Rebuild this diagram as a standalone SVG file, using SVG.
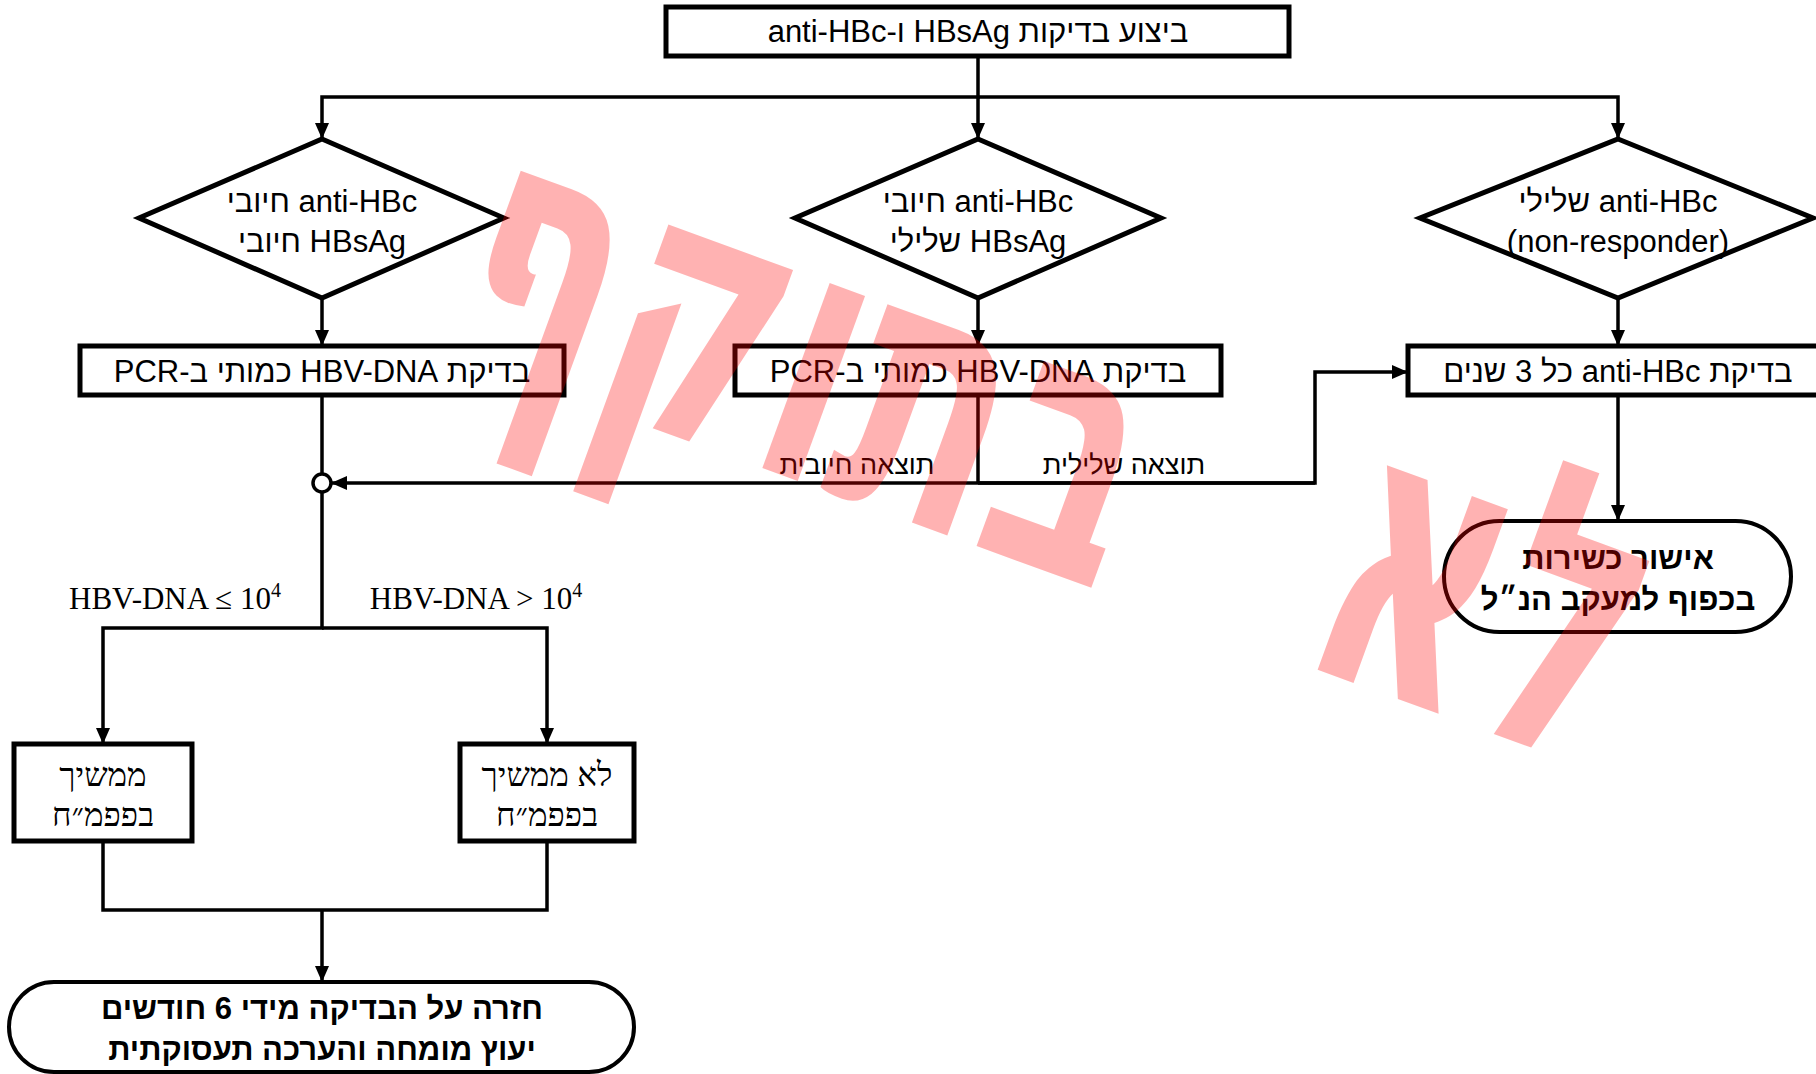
<svg xmlns="http://www.w3.org/2000/svg" width="1816" height="1074" viewBox="0 0 1816 1074">
<defs>
<style>
.box{fill:#fff;stroke:#000;stroke-width:5}
.dia{fill:#fff;stroke:#000;stroke-width:5;stroke-linejoin:miter}
.term{fill:#fff;stroke:#000;stroke-width:4}
.conn{fill:none;stroke:#000;stroke-width:3.5}
.t{font-family:"Liberation Sans","DejaVu Sans",sans-serif;font-size:31px;text-anchor:middle;direction:rtl;fill:#000}
.l{font-family:"Liberation Sans","DejaVu Sans",sans-serif;font-size:27px;text-anchor:middle;direction:rtl;fill:#000}
.s{font-family:"Liberation Serif","DejaVu Serif",serif;font-size:31px;text-anchor:middle;fill:#000}
.h{font-family:"Liberation Serif","DejaVu Serif",serif;font-size:33px;text-anchor:middle;direction:rtl;fill:#000}
.b{font-family:"Liberation Sans","DejaVu Sans",sans-serif;font-size:31px;font-weight:bold;text-anchor:middle;direction:rtl;fill:#000}
.wm{font-family:"DejaVu Sans","Liberation Sans",sans-serif;font-weight:bold;fill:#ff0000;fill-opacity:0.3;text-anchor:middle;direction:rtl}
</style>
<marker id="ah" viewBox="0 0 10 10" refX="10" refY="5" markerWidth="16" markerHeight="14" markerUnits="userSpaceOnUse" orient="auto" preserveAspectRatio="none">
<path d="M0,0 L10,5 L0,10 z" fill="#000"/>
</marker>
</defs>
<rect width="1816" height="1074" fill="#fff"/>

<g id="connectors">
<path class="conn" d="M978,56 V97 H322 V139" marker-end="url(#ah)"/>
<path class="conn" d="M978,97 V139" marker-end="url(#ah)"/>
<path class="conn" d="M978,97 H1618 V139" marker-end="url(#ah)"/>
<path class="conn" d="M322,298 V346" marker-end="url(#ah)"/>
<path class="conn" d="M978,298 V346" marker-end="url(#ah)"/>
<path class="conn" d="M1618,298 V346" marker-end="url(#ah)"/>
<path class="conn" d="M322,395 V474"/>
<path class="conn" d="M322,492 V628 H103 V744" marker-end="url(#ah)"/>
<path class="conn" d="M322,628 H547 V744" marker-end="url(#ah)"/>
<path class="conn" d="M978,395 V483"/>
<path class="conn" d="M1315,483 H331" marker-end="url(#ah)"/>
<path class="conn" d="M978,483 H1315 V372 H1408" marker-end="url(#ah)"/>
<path class="conn" d="M1618,395 V521" marker-end="url(#ah)"/>
<path class="conn" d="M103,841 V910 H547 V841"/>
<path class="conn" d="M322,910 V982" marker-end="url(#ah)"/>
<text class="l" x="857" y="474">תוצאה חיובית</text>
<text class="l" x="1124" y="474">תוצאה שלילית</text>
<text class="s" x="175" y="609">HBV-DNA ≤ 10<tspan font-size="20" dy="-12">4</tspan></text>
<text class="s" x="476" y="609">HBV-DNA &gt; 10<tspan font-size="20" dy="-12">4</tspan></text>
</g>

<g id="start">
<rect class="box" x="666" y="7" width="623" height="49"/>
<text class="t" x="978" y="42">ביצוע בדיקות HBsAg ו-anti-HBc</text>
</g>

<g id="dec1">
<polygon class="dia" points="322,139 504,218 322,298 139,218"/>
<text class="t" x="322" y="212">anti-HBc חיובי</text>
<text class="t" x="322" y="252">HBsAg חיובי</text>
</g>

<g id="dec2">
<polygon class="dia" points="978,139 1161,218 978,298 795,218"/>
<text class="t" x="978" y="212">anti-HBc חיובי</text>
<text class="t" x="978" y="252">HBsAg שלילי</text>
</g>

<g id="dec3">
<polygon class="dia" points="1618,139 1813,218 1618,298 1420,218"/>
<text class="t" x="1618" y="212">anti-HBc שלילי</text>
<text class="t" x="1618" y="252" style="direction:ltr">(non-responder)</text>
</g>

<g id="pcr1">
<rect class="box" x="80" y="346" width="484" height="49"/>
<text class="t" x="322" y="382">בדיקת HBV-DNA כמותי ב-PCR</text>
</g>

<g id="pcr2">
<rect class="box" x="735" y="346" width="486" height="49"/>
<text class="t" x="978" y="382">בדיקת HBV-DNA כמותי ב-PCR</text>
</g>

<g id="antihbc3y">
<rect class="box" x="1408" y="346" width="420" height="49"/>
<text class="t" x="1618" y="382">בדיקת anti-HBc כל 3 שנים</text>
</g>

<g id="junction">
<circle cx="322" cy="483" r="9" fill="#fff" stroke="#000" stroke-width="3.5"/>
</g>

<g id="approve">
<rect class="term" x="1444" y="521" width="347" height="111" rx="55.5" ry="55.5"/>
<text class="b" x="1618" y="569">אישור כשירות</text>
<text class="b" x="1618" y="610">בכפוף למעקב הנ״ל</text>
</g>

<g id="continues">
<rect class="box" x="14" y="744" width="178" height="97"/>
<text class="h" x="103" y="786">ממשיך</text>
<text class="h" x="103" y="826">בפפמ״ח</text>
</g>

<g id="notcontinues">
<rect class="box" x="460" y="744" width="174" height="97"/>
<text class="h" x="547" y="786">לא ממשיך</text>
<text class="h" x="547" y="826">בפפמ״ח</text>
</g>

<g id="repeat">
<rect class="term" x="9" y="982" width="625" height="90" rx="45" ry="45"/>
<text class="b" x="322" y="1019">חזרה על הבדיקה מידי 6 חודשים</text>
<text class="b" x="322" y="1060">יעוץ מומחה והערכה תעסוקתית</text>
</g>

<g id="watermark">
<text class="wm" font-size="360" transform="translate(802,374) rotate(20)" x="0" y="102" textLength="710" lengthAdjust="spacingAndGlyphs">בתוקף</text>
<text class="wm" font-size="395" transform="translate(1485,602) rotate(20)" x="0" y="121" textLength="318" lengthAdjust="spacingAndGlyphs">לא</text>
</g>
</svg>
